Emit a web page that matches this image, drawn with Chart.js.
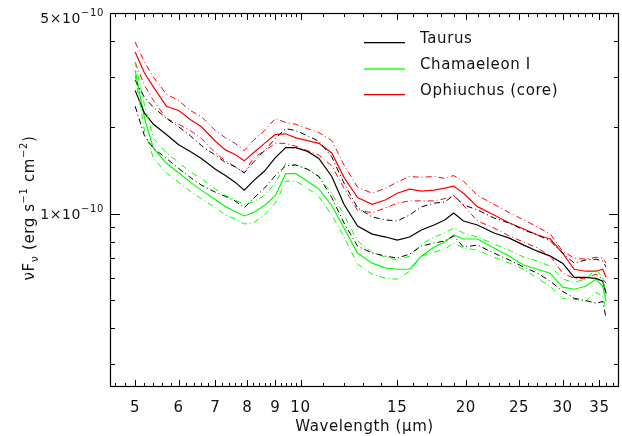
<!DOCTYPE html>
<html>
<head>
<meta charset="utf-8">
<script src="https://cdn.jsdelivr.net/npm/chart.js@4.4.0/dist/chart.umd.min.js"></script>
<style>
    html, body { margin: 0; padding: 0; background: #fff; }
    #wrap { width: 622px; height: 436px; }
</style>
</head>
<body>
<div id="wrap"><canvas id="sedChart"></canvas></div>
<script>
// Wavelength grid (micron)
const wavelength = [5.0, 5.2, 5.4, 5.7, 6.0, 6.3, 6.6, 7.0, 7.3, 7.6, 7.9, 8.2, 8.6, 9.0, 9.4, 9.8,
    10.3, 10.8, 11.4, 12.0, 12.7, 13.5, 14.3, 15.0, 15.8, 16.6, 17.5, 18.3, 19.0, 19.8,
    21.0, 22.5, 24.0, 25.5, 27.0, 28.5, 30.0, 31.5, 33.0, 34.5, 35.5, 36.0];

// nuF_nu in units of 1e-10 erg s^-1 cm^-2
const taurus = [2.69, 2.24, 2.05, 1.89, 1.74, 1.65, 1.56, 1.43, 1.36, 1.29, 1.21, 1.30, 1.41, 1.57, 1.70, 1.70,
    1.65, 1.56, 1.35, 1.08, 0.908, 0.851, 0.831, 0.811, 0.831, 0.879, 0.915, 0.953, 1.008, 0.945,
    0.915, 0.858, 0.824, 0.779, 0.742, 0.713, 0.674, 0.602, 0.602, 0.597, 0.583, 0.529];
const taurusHi = [2.92, 2.54, 2.35, 2.15, 2.01, 1.87, 1.73, 1.60, 1.51, 1.46, 1.39, 1.51, 1.66, 1.83, 1.98, 1.95,
    1.87, 1.79, 1.58, 1.28, 1.05, 0.976, 0.953, 0.945, 0.992, 1.058, 1.09, 1.10, 1.16, 1.075,
    1.033, 0.968, 0.930, 0.879, 0.845, 0.805, 0.731, 0.674, 0.691, 0.696, 0.685, 0.653];
const taurusLo = [2.37, 1.87, 1.69, 1.56, 1.44, 1.34, 1.26, 1.19, 1.15, 1.11, 1.05, 1.13, 1.23, 1.36, 1.47, 1.48,
    1.43, 1.35, 1.14, 0.930, 0.773, 0.731, 0.713, 0.702, 0.725, 0.773, 0.792, 0.805, 0.838, 0.767,
    0.779, 0.731, 0.691, 0.653, 0.622, 0.583, 0.538, 0.509, 0.500, 0.489, 0.496, 0.433];

const chamaeleon = [3.16, 2.15, 1.69, 1.50, 1.39, 1.29, 1.21, 1.12, 1.06, 1.02, 0.984, 1.01, 1.07, 1.16, 1.38, 1.38,
    1.30, 1.22, 1.07, 0.893, 0.731, 0.674, 0.648, 0.642, 0.642, 0.713, 0.767, 0.798, 0.845, 0.818,
    0.818, 0.761, 0.713, 0.663, 0.642, 0.622, 0.556, 0.547, 0.560, 0.593, 0.560, 0.496];
const chamaeleonHi = [3.37, 2.39, 1.83, 1.63, 1.51, 1.40, 1.33, 1.22, 1.16, 1.12, 1.08, 1.10, 1.16, 1.28, 1.50, 1.48,
    1.43, 1.35, 1.18, 0.992, 0.805, 0.736, 0.707, 0.691, 0.713, 0.786, 0.831, 0.858, 0.893, 0.858,
    0.831, 0.786, 0.748, 0.707, 0.685, 0.658, 0.593, 0.578, 0.593, 0.642, 0.597, 0.517];
const chamaeleonLo = [3.04, 1.95, 1.56, 1.39, 1.29, 1.20, 1.13, 1.05, 0.992, 0.961, 0.923, 0.930, 0.992, 1.09, 1.30, 1.30,
    1.23, 1.15, 0.992, 0.831, 0.669, 0.617, 0.597, 0.593, 0.632, 0.713, 0.736, 0.754, 0.792, 0.761,
    0.748, 0.707, 0.674, 0.642, 0.597, 0.560, 0.509, 0.505, 0.496, 0.534, 0.517, 0.465];

const ophiuchus = [3.66, 3.09, 2.76, 2.37, 2.29, 2.13, 2.01, 1.79, 1.67, 1.61, 1.53, 1.63, 1.76, 1.89, 1.90, 1.84,
    1.80, 1.76, 1.63, 1.34, 1.14, 1.08, 1.12, 1.18, 1.22, 1.20, 1.21, 1.23, 1.25, 1.18,
    1.06, 0.992, 0.930, 0.886, 0.845, 0.818, 0.731, 0.642, 0.632, 0.632, 0.642, 0.602];
const ophiuchusHi = [3.96, 3.37, 2.99, 2.61, 2.48, 2.29, 2.18, 1.95, 1.84, 1.76, 1.66, 1.80, 1.95, 2.15, 2.08, 2.05,
    1.98, 1.92, 1.80, 1.48, 1.24, 1.18, 1.23, 1.29, 1.35, 1.34, 1.35, 1.33, 1.36, 1.30,
    1.16, 1.08, 1.01, 0.953, 0.901, 0.851, 0.742, 0.702, 0.696, 0.707, 0.702, 0.674];
const ophiuchusLo = [3.37, 2.80, 2.48, 2.15, 2.05, 1.95, 1.83, 1.63, 1.53, 1.46, 1.39, 1.56, 1.66, 1.76, 1.76, 1.72,
    1.66, 1.60, 1.47, 1.23, 1.03, 1.01, 1.05, 1.09, 1.11, 1.11, 1.11, 1.13, 1.16, 1.07,
    0.945, 0.893, 0.838, 0.798, 0.761, 0.713, 0.622, 0.597, 0.597, 0.617, 0.593, 0.574];

const regionNames = ["Taurus", "Chamaeleon I", "Ophiuchus (core)"];
const regionColors = ["#000000", "#00ff00", "#ff0000"];
const legendColors = ["#000000", "#55ff55", "#e00000"];

const xTickValues = [5, 6, 7, 8, 9, 10, 15, 20, 25, 30, 35];
const yTickValues = [1e-10, 5e-10];
const yTickMantissa = ["1", "5"];
const yMinorValues = [3e-11, 4e-11, 5e-11, 6e-11, 7e-11, 8e-11, 9e-11, 2e-10, 3e-10, 4e-10];

// minor x ticks: every 0.2 below 10, every 1 above
const xMinorValues = [];
for (let k = 23; k < 50; k++) if (k % 5) xMinorValues.push(k / 5);
for (let v = 11; v <= 37; v++) if (v % 5) xMinorValues.push(v);

const series = (values) => wavelength.map((w, i) => ({ x: w, y: values[i] * 1e-10 }));

const dashDot = [6, 3, 1, 3];
const bands = [
    [taurusHi, taurusLo, regionColors[0]],
    [chamaeleonHi, chamaeleonLo, regionColors[1]],
    [ophiuchusHi, ophiuchusLo, regionColors[2]],
];
const mains = [taurus, chamaeleon, ophiuchus];

const datasets = [];
bands.forEach(([hi, lo, color]) => {
    [hi, lo].forEach((vals) => {
        datasets.push({
            data: series(vals),
            borderColor: color,
            borderWidth: 1,
            borderDash: dashDot,
            pointRadius: 0,
            tension: 0,
        });
    });
});
mains.forEach((vals, i) => {
    datasets.push({
        label: regionNames[i],
        data: series(vals),
        borderColor: regionColors[i],
        borderWidth: 1.2,
        pointRadius: 0,
        tension: 0,
    });
});

const FONT = '"DejaVu Sans", sans-serif';

// frame, inward ticks, y labels, titles and legend
const axisDecor = {
    id: "axisDecor",
    beforeDraw(chart) {
        chart.ctx.letterSpacing = "0.6px";
    },
    afterDatasetsDraw(chart) {
        const { ctx, chartArea: a, scales } = chart;
        const xs = scales.x, ys = scales.y;
        ctx.save();
        ctx.setLineDash([]);
        ctx.strokeStyle = "#000";
        ctx.lineWidth = 1;
        ctx.beginPath();
        const seg = (x1, y1, x2, y2) => { ctx.moveTo(x1, y1); ctx.lineTo(x2, y2); };
        const xt = (v, len) => {
            const px = Math.round(xs.getPixelForValue(v)) + 0.5;
            seg(px, a.bottom, px, a.bottom - len);
            seg(px, a.top, px, a.top + len);
        };
        const yt = (v, len) => {
            const py = Math.round(ys.getPixelForValue(v)) + 0.5;
            seg(a.left, py, a.left + len, py);
            seg(a.right, py, a.right - len, py);
        };
        xTickValues.forEach((v) => xt(v, 7));
        xMinorValues.forEach((v) => xt(v, 4));
        yTickValues.forEach((v) => yt(v, 10));
        yMinorValues.forEach((v) => yt(v, 5));
        ctx.stroke();
        ctx.lineWidth = 1.2;
        ctx.strokeRect(a.left + 0.5, a.top + 0.5, a.right - a.left - 1, a.bottom - a.top - 1);

        // legend samples
        legendColors.forEach((c, i) => {
            ctx.fillStyle = c;
            ctx.fillRect(364, 42 + i * 26, 41, i === 1 ? 2 : 1.3);
        });
        ctx.restore();
    },
    afterDraw(chart) {
        const { ctx, chartArea: a, scales } = chart;
        const ys = scales.y;
        ctx.save();
        ctx.fillStyle = "#111";
        ctx.letterSpacing = "0.6px";

        // y tick labels, e.g. 1x10^-10
        yTickValues.forEach((v, i) => {
            const py = ys.getPixelForValue(v);
            const base = Math.max(py + 5, a.top + 10);
            const main = yTickMantissa[i] + "\u00d710";
            const sup = "\u221210";
            ctx.font = "14px " + FONT;
            const wm = ctx.measureText(main).width;
            ctx.font = "10px " + FONT;
            const ws = ctx.measureText(sup).width;
            const right = a.left - 6;
            ctx.textBaseline = "alphabetic";
            ctx.textAlign = "left";
            ctx.font = "14px " + FONT;
            ctx.fillText(main, right - ws - wm, base);
            ctx.font = "10px " + FONT;
            ctx.fillText(sup, right - ws, base - 7);
        });

        // x title
        ctx.font = "15px " + FONT;
        ctx.textAlign = "center";
        ctx.textBaseline = "alphabetic";
        ctx.fillText("Wavelength (\u03bcm)", (a.left + a.right) / 2, 431);

        // legend text
        ctx.textAlign = "left";
        regionNames.forEach((name, i) => ctx.fillText(name, 420, 43 + i * 26));

        // y title with sub/superscripts
        const parts = [
            { t: "\u03bdF", s: 15, dy: 0 },
            { t: "\u03bd", s: 11, dy: 4 },
            { t: " (erg s", s: 15, dy: 0 },
            { t: "\u22121", s: 10, dy: -7 },
            { t: " cm", s: 15, dy: 0 },
            { t: "\u22122", s: 10, dy: -7 },
            { t: ")", s: 15, dy: 0 },
        ];
        let total = 0;
        parts.forEach((p) => { ctx.font = p.s + "px " + FONT; p.w = ctx.measureText(p.t).width; total += p.w; });
        ctx.translate(34, (a.top + a.bottom) / 2 + 8);
        ctx.rotate(-Math.PI / 2);
        let cx = -total / 2;
        parts.forEach((p) => {
            ctx.font = p.s + "px " + FONT;
            ctx.fillText(p.t, cx, p.dy);
            cx += p.w;
        });
        ctx.restore();
    },
};

new Chart(document.getElementById("sedChart"), {
    type: "line",
    data: { datasets },
    options: {
        responsive: true,
        maintainAspectRatio: false,
        animation: false,
        devicePixelRatio: 1,
        layout: { padding: { left: 0, right: 3, top: 13, bottom: 0 } },
        plugins: { legend: { display: false }, tooltip: { enabled: false } },
        scales: {
            x: {
                type: "logarithmic",
                min: 4.5,
                max: 38,
                grid: { display: false },
                border: { display: false },
                afterBuildTicks: (scale) => { scale.ticks = xTickValues.map((v) => ({ value: v })); },
                afterFit: (scale) => { scale.height = 49; },
                ticks: {
                    autoSkip: false,
                    maxRotation: 0,
                    padding: 4,
                    color: "#111",
                    font: { family: FONT, size: 15 },
                    callback: (v) => String(v),
                },
            },
            y: {
                type: "logarithmic",
                min: 2.5e-11,
                max: 5e-10,
                grid: { display: false },
                border: { display: false },
                afterBuildTicks: (scale) => { scale.ticks = yTickValues.map((v) => ({ value: v })); },
                afterFit: (scale) => { scale.width = 110; },
                ticks: { display: false },
            },
        },
    },
    plugins: [axisDecor],
});
</script>
</body>
</html>
